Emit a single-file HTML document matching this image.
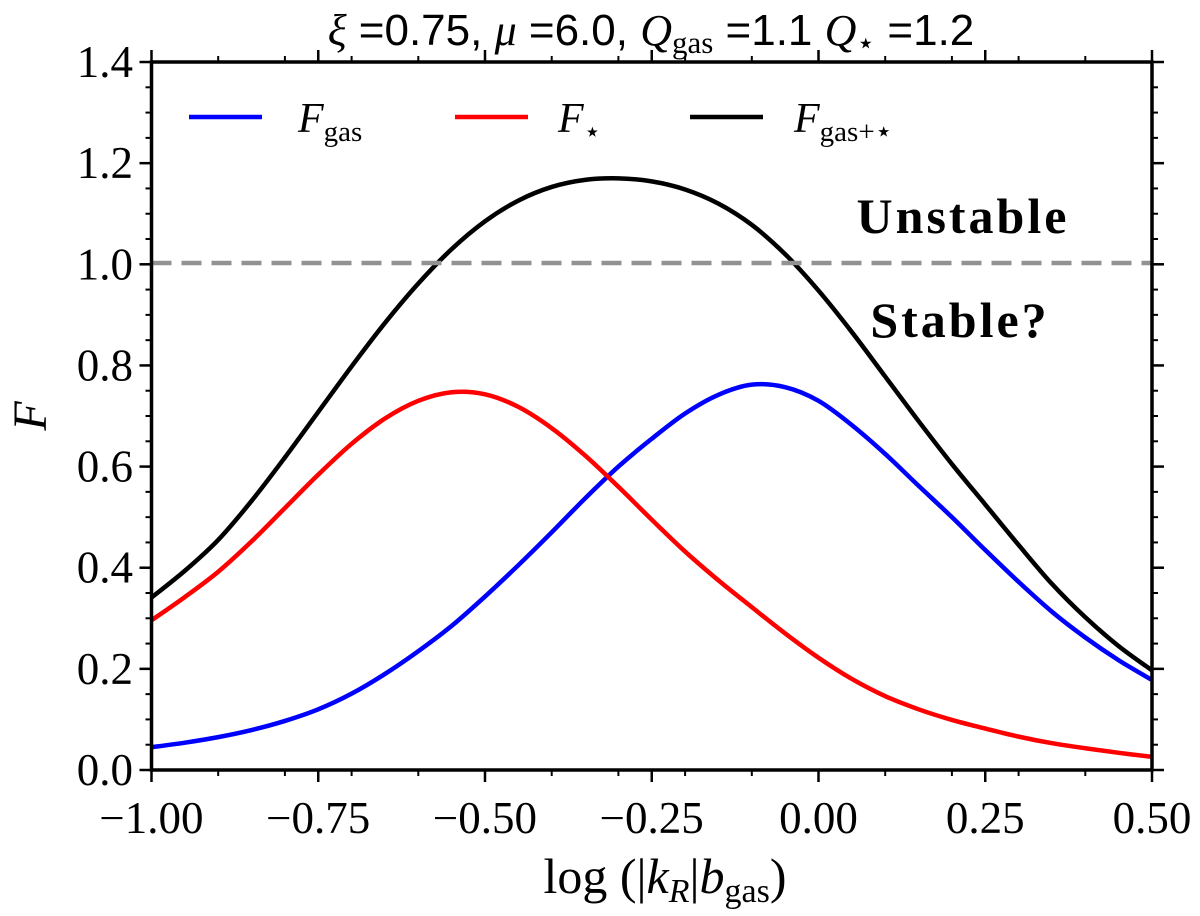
<!DOCTYPE html>
<html><head><meta charset="utf-8"><style>
body{margin:0;background:#fff}
svg{display:block}
text{font-family:"Liberation Serif",serif;fill:#000}
</style></head><body>
<svg id="chart" width="1200" height="916" viewBox="0 0 1200 916">
<g id="ticks"></g>
<g id="curves"></g>
<line x1="151.5" x2="1152" y1="263" y2="263" stroke="#929292" stroke-width="4.5" stroke-dasharray="20,10"/>
<rect x="151.5" y="62" width="1000.5" height="708" fill="none" stroke="#000" stroke-width="3.5"/>
<text x="651" y="45" text-anchor="middle" font-size="44" style="font-family:'Liberation Sans',sans-serif"><tspan font-style="italic" style="font-family:'Liberation Serif',serif">ξ</tspan> =0.75, <tspan font-style="italic" style="font-family:'Liberation Serif',serif">μ</tspan> =6.0, <tspan font-style="italic" style="font-family:'Liberation Serif',serif">Q</tspan><tspan font-size="31" dy="8" style="font-family:'Liberation Serif',serif">gas</tspan><tspan dy="-8"> =1.1 </tspan><tspan font-style="italic" style="font-family:'Liberation Serif',serif">Q</tspan><tspan font-size="30" dy="8">⋆</tspan><tspan dy="-8"> =1.2</tspan></text>
<g>
<line x1="189" x2="262" y1="117" y2="117" stroke="#0000ff" stroke-width="4.5"/>
<text x="298" y="132" font-size="42"><tspan font-style="italic">F</tspan><tspan font-size="29" dy="9">gas</tspan></text>
<line x1="455" x2="528" y1="117" y2="117" stroke="#ff0000" stroke-width="4.5"/>
<text x="558" y="132" font-size="42"><tspan font-style="italic">F</tspan><tspan font-size="28" dy="9">⋆</tspan></text>
<line x1="690" x2="763" y1="117" y2="117" stroke="#000" stroke-width="4.5"/>
<text x="794" y="132" font-size="42"><tspan font-style="italic">F</tspan><tspan font-size="29" dy="9">gas+⋆</tspan></text>
</g>
<text x="963" y="233" text-anchor="middle" font-size="50" font-weight="bold" letter-spacing="3">Unstable</text>
<text x="960" y="337" text-anchor="middle" font-size="50" font-weight="bold" letter-spacing="3">Stable?</text>
<text x="665" y="893" text-anchor="middle" font-size="50">log (|<tspan font-style="italic">k</tspan><tspan font-size="34" dy="9" font-style="italic">R</tspan><tspan dy="-9">|</tspan><tspan font-style="italic">b</tspan><tspan font-size="34" dy="9">gas</tspan><tspan dy="-9">)</tspan></text>
<text transform="translate(46,416) rotate(-90)" text-anchor="middle" font-size="48" font-style="italic">F</text>
</svg>
<script>
const xVals=[-1,-0.95,-0.9,-0.85,-0.8,-0.75,-0.7,-0.65,-0.6,-0.55,-0.5,-0.45,-0.4,-0.35,-0.3,-0.25,-0.2,-0.15,-0.1,-0.05,0,0.05,0.1,0.15,0.2,0.25,0.3,0.35,0.4,0.45,0.5];
const fGas=[0.045,0.054,0.065,0.079,0.097,0.12,0.151,0.19,0.235,0.285,0.343,0.405,0.47,0.537,0.60,0.655,0.705,0.742,0.762,0.757,0.73,0.682,0.625,0.562,0.50,0.435,0.372,0.313,0.262,0.217,0.178];
const fStar=[0.296,0.342,0.392,0.452,0.518,0.584,0.645,0.695,0.73,0.747,0.743,0.718,0.676,0.622,0.56,0.495,0.432,0.375,0.322,0.27,0.222,0.18,0.146,0.12,0.099,0.082,0.066,0.053,0.043,0.034,0.026];
const fTotal=[0.341,0.394,0.455,0.532,0.618,0.708,0.798,0.884,0.962,1.03,1.085,1.126,1.153,1.167,1.17,1.164,1.148,1.12,1.078,1.02,0.948,0.866,0.778,0.69,0.605,0.525,0.445,0.368,0.302,0.245,0.197];
const xTicks=[-1,-0.75,-0.5,-0.25,0,0.25,0.5];
const xTickLabels=["\u22121.00","\u22120.75","\u22120.50","\u22120.25","0.00","0.25","0.50"];
const yTicks=[0,0.2,0.4,0.6,0.8,1.0,1.2,1.4];
const yTickLabels=["0.0","0.2","0.4","0.6","0.8","1.0","1.2","1.4"];
const X=v=>151.5+(v+1)*667, Y=f=>770-f*505.7;
const NS="http://www.w3.org/2000/svg";
const tg=document.getElementById('ticks'), cg=document.getElementById('curves');
function ln(x1,y1,x2,y2,w){const l=document.createElementNS(NS,'line');l.setAttribute('x1',x1);l.setAttribute('y1',y1);l.setAttribute('x2',x2);l.setAttribute('y2',y2);l.setAttribute('stroke','#000');l.setAttribute('stroke-width',w);


tg.appendChild(l);}
for(let i=0;i<=15;i++){const v=-1+i*0.1,x=X(v);ln(x,770,x,776,2);ln(x,62,x,56,2);}
for(let i=0;i<=28;i++){const f=i*0.05,y=Y(f);ln(151.5,y,145.5,y,2);ln(1152,y,1158,y,2);}
xTicks.forEach((v,i)=>{const x=X(v);ln(x,770,x,782,2.5);ln(x,62,x,50,2.5);
const t=document.createElementNS(NS,'text');t.setAttribute('x',x);t.setAttribute('y',833);t.setAttribute('text-anchor','middle');t.setAttribute('font-size','45');t.textContent=xTickLabels[i];


tg.appendChild(t);});
yTicks.forEach((f,i)=>{const y=Y(f);ln(151.5,y,139.5,y,2.5);ln(1152,y,1164,y,2.5);
const t=document.createElementNS(NS,'text');t.setAttribute('x',133);t.setAttribute('y',y+15);t.setAttribute('text-anchor','end');t.setAttribute('font-size','45');t.textContent=yTickLabels[i];


tg.appendChild(t);});
function path(vals){const p=xVals.map((v,i)=>[X(v),Y(vals[i])]);let d='M'+p[0][0]+','+p[0][1];
for(let i=0;i<p.length-1;i++){const p0=p[Math.max(i-1,0)],p1=p[i],p2=p[i+1],p3=p[Math.min(i+2,p.length-1)];
d+=' C'+(p1[0]+(p2[0]-p0[0])/6)+','+(p1[1]+(p2[1]-p0[1])/6)+' '+(p2[0]-(p3[0]-p1[0])/6)+','+(p2[1]-(p3[1]-p1[1])/6)+' '+p2[0]+','+p2[1];}return d;}
[[fGas,'#0000ff','curve-f-gas'],[fStar,'#ff0000','curve-f-star'],[fTotal,'#000000','curve-f-total']].forEach(s=>{
const e=document.createElementNS(NS,'path');e.setAttribute('d',path(s[0]));e.setAttribute('fill','none');e.setAttribute('stroke',s[1]);e.setAttribute('stroke-width','4.5');


cg.appendChild(e);});
</script>
</body></html>
